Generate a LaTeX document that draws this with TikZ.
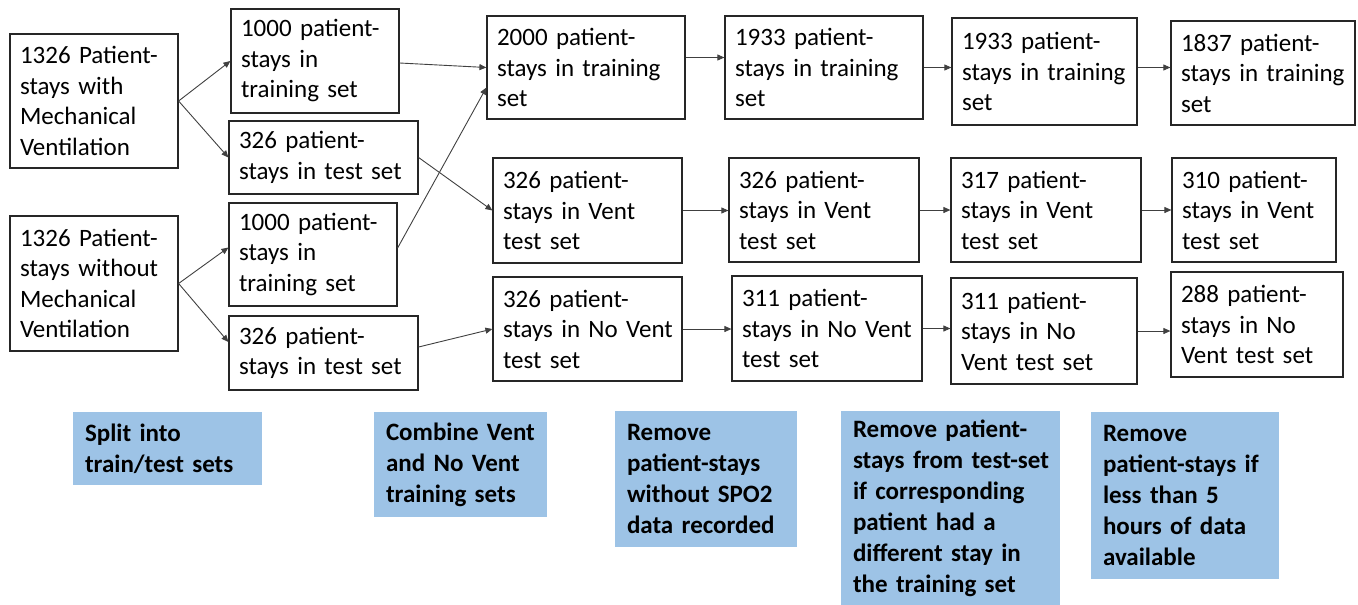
\documentclass[tikz,border=0pt]{standalone}
\usepackage{fontspec}
\setmainfont{Carlito}
\usetikzlibrary{arrows.meta}
\definecolor{notebl}{HTML}{9DC3E6}
\newcommand\ml[1]{\mbox{#1}}
\tikzset{
 box/.style={draw=black!85, line width=1.2pt, fill=white, inner xsep=10pt, inner ysep=0pt, align=left, font=\fontsize{25}{30.5}\selectfont},
 note/.style={fill=notebl, draw=none, inner xsep=12pt, inner ysep=0pt, align=left, font=\fontsize{25}{31}\selectfont\bfseries},
 conn/.style={draw=black!75, line width=0.9pt, -{Triangle[length=7pt,width=6pt]}},
}
% style, name, x1, y1, x2, y2, pad, text
\newcommand\bx[8]{%
 \pgfmathsetmacro\bxw{#5-#3}\pgfmathsetmacro\bxh{#6-#4}%
 \pgfmathsetmacro\bxtw{#5-#3-2*#7}%
 \pgfmathsetmacro\bxcx{(#3+#5)/2}\pgfmathsetmacro\bxcy{(#4+#6)/2}%
 \node[#1, minimum width=\bxw pt, minimum height=\bxh pt, text width=\bxtw pt] (#2) at (\bxcx,\bxcy) {#8};}
\begin{document}
\begin{tikzpicture}[x=1pt,y=-1pt]
\useasboundingbox (0,0) rectangle (1358,605);
% column A
\bx{box}{A1}{10}{34}{178}{168}{10}{\ml{1326 Patient-}\\\ml{stays with}\\\ml{Mechanical}\\\ml{Ventilation}}
\bx{box}{A2}{10}{216}{178}{351}{10}{\ml{1326 Patient-}\\\ml{stays without}\\\ml{Mechanical}\\\ml{Ventilation}}
% column B
\bx{box}{B1}{231}{9}{399}{113}{10}{\ml{1000 patient-}\\\ml{stays in}\\\ml{training set}}
\bx{box}{B2}{229}{121}{418}{194}{10}{\ml{326 patient-}\\\ml{stays in test set}}
\bx{box}{B3}{229}{203}{397}{306}{10}{\ml{1000 patient-}\\\ml{stays in}\\\ml{training set}}
\bx{box}{B4}{229}{316}{418}{390}{10}{\ml{326 patient-}\\\ml{stays in test set}}
% column C
\bx{box}{C1}{487}{16}{685}{119}{10}{\ml{2000 patient-}\\\ml{stays in training}\\\ml{set}}
\bx{box}{C2}{493}{158}{682}{263}{10}{\ml{326 patient-}\\\ml{stays in Vent}\\\ml{test set}}
\bx{box}{C3}{493}{277}{682}{381}{10}{\ml{326 patient-}\\\ml{stays in No Vent}\\\ml{test set}}
% column D
\bx{box}{D1}{725}{16}{923}{119}{10}{\ml{1933 patient-}\\\ml{stays in training}\\\ml{set}}
\bx{box}{D2}{729}{158}{919}{262}{10}{\ml{326 patient-}\\\ml{stays in Vent}\\\ml{test set}}
\bx{box}{D3}{732}{276}{922}{381}{10}{\ml{311 patient-}\\\ml{stays in No Vent}\\\ml{test set}}
% column E
\bx{box}{E1}{952}{18}{1137}{125}{10}{\ml{1933 patient-}\\\ml{stays in training}\\\ml{set}}
\bx{box}{E2}{951}{158}{1141}{262}{10}{\ml{317 patient-}\\\ml{stays in Vent}\\\ml{test set}}
\bx{box}{E3}{951}{278}{1137}{384}{10}{\ml{311 patient-}\\\ml{stays in No}\\\ml{Vent test set}}
% column F
\bx{box}{F1}{1171}{21}{1355}{125}{10}{\ml{1837 patient-}\\\ml{stays in training}\\\ml{set}}
\bx{box}{F2}{1172}{158}{1336}{262}{10}{\ml{310 patient-}\\\ml{stays in Vent}\\\ml{test set}}
\bx{box}{F3}{1171}{272}{1343}{377}{10}{\ml{288 patient-}\\\ml{stays in No}\\\ml{Vent test set}}
% notes
\bx{note}{G1}{73}{412}{262}{485}{12}{\ml{Split into}\\\ml{train/test sets}}
\bx{note}{G2}{374}{412}{547}{517}{12}{\ml{Combine Vent}\\\ml{and No Vent}\\\ml{training sets}}
\bx{note}{G3}{615}{411}{797}{547}{12}{\ml{Remove}\\\ml{patient-stays}\\\ml{without SPO2}\\\ml{data recorded}}
\bx{note}{G4}{841}{411}{1060}{605}{12}{\ml{Remove patient-}\\\ml{stays from test-set}\\\ml{if corresponding}\\\ml{patient had a}\\\ml{different stay in}\\\ml{the training set}}
\bx{note}{G5}{1091}{412}{1279}{579}{12}{\ml{Remove}\\\ml{patient-stays if}\\\ml{less than 5}\\\ml{hours of data}\\\ml{available}}
% connectors
\draw[conn] (A1.east) -- (B1.west);
\draw[conn] (A1.east) -- (B2.west);
\draw[conn] (A2.east) -- ([yshift=7pt]B3.west);
\draw[conn] (A2.east) -- ([yshift=11pt]B4.west);
\draw[conn] ([yshift=-2pt]B1.east) -- (C1.west);
\draw[conn] ([yshift=6.5pt]B3.east) -- ([yshift=-20pt]C1.west);
\draw[conn] (B2.east) -- (C2.west);
\draw[conn] ([yshift=6pt]B4.east) -- (C3.west);
\draw[conn] ([yshift=10pt]C1.east) -- ([yshift=10pt]C1.east -| D1.west);
\draw[conn] (D1.east) -- (D1.east -| E1.west);
\draw[conn] ([yshift=4pt]E1.east) -- ([yshift=4pt]E1.east -| F1.west);
\draw[conn] (C2.east) -- (C2.east -| D2.west);
\draw[conn] (D2.east) -- (D2.east -| E2.west);
\draw[conn] (E2.east) -- (E2.east -| F2.west);
\draw[conn] (C3.east) -- (C3.east -| D3.west);
\draw[conn] (D3.east) -- (D3.east -| E3.west);
\draw[conn] (E3.east) -- (E3.east -| F3.west);
\end{tikzpicture}
\end{document}
